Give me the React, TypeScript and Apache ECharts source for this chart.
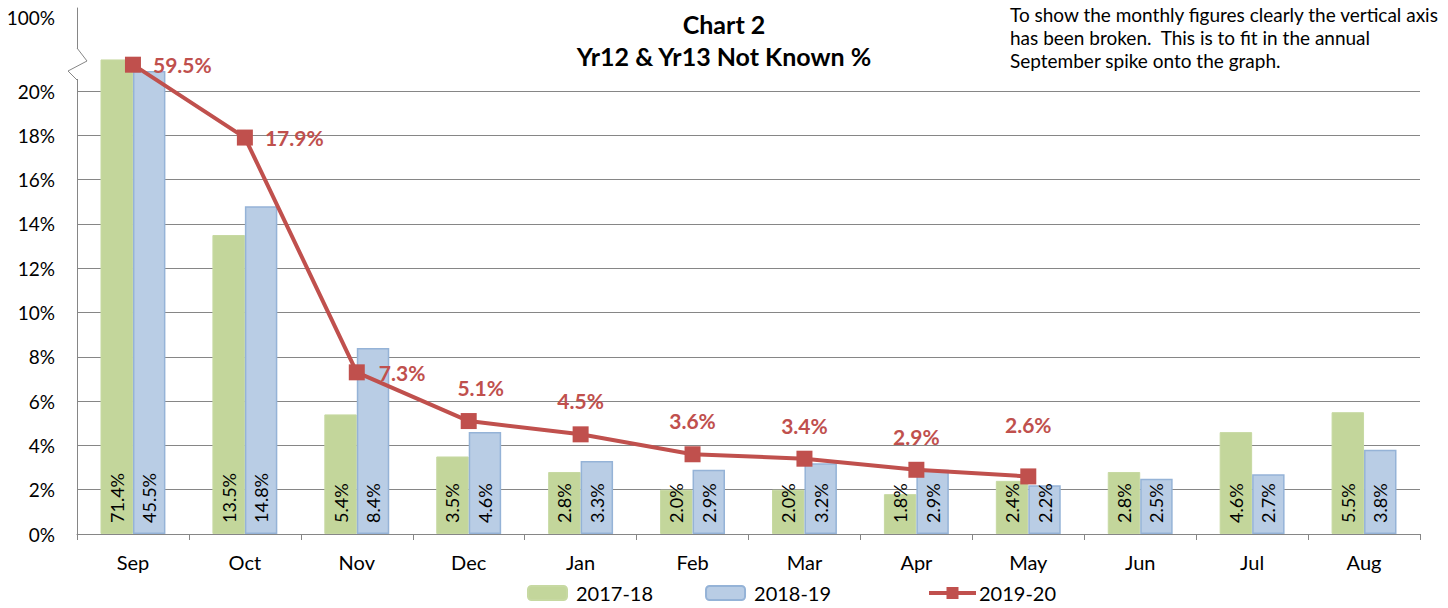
import React, { useEffect, useRef } from "react";
import * as echarts from "echarts";

const MONTHS = ["Sep", "Oct", "Nov", "Dec", "Jan", "Feb", "Mar", "Apr", "May", "Jun", "Jul", "Aug"];
const S_2017_18 = [71.4, 13.5, 5.4, 3.5, 2.8, 2.0, 2.0, 1.8, 2.4, 2.8, 4.6, 5.5];
const S_2018_19 = [45.5, 14.8, 8.4, 4.6, 3.3, 2.9, 3.2, 2.9, 2.2, 2.5, 2.7, 3.8];
const S_2019_20: (number | null)[] = [59.5, 17.9, 7.3, 5.1, 4.5, 3.6, 3.4, 2.9, 2.6, null, null, null];
const Y_TICKS = [0, 2, 4, 6, 8, 10, 12, 14, 16, 18, 20];
const BREAK_LABEL = "100%";

// broken axis: values above 20% are squeezed just above the 20% line
const BREAK_AT = 20;
const BREAK_SCALE = 0.02;
const BREAK_LABEL_POS = 23.3;
const disp = (v: number) => (v > BREAK_AT ? BREAK_AT + v * BREAK_SCALE : v);
const fmt = (v: number) => v.toFixed(1) + "%";

const FONT = "Lato, 'Open Sans', sans-serif";

export default function App() {
  const ref = useRef<HTMLDivElement>(null);
  useEffect(() => {
    document.body.style.margin = "0";
    const chart = echarts.init(ref.current!, null, { renderer: "svg" });
    const barLabel = (arr: number[]) => ({
      show: true,
      position: "insideBottom",
      rotate: 90,
      align: "left",
      verticalAlign: "middle",
      distance: 11,
      fontFamily: FONT,
      fontSize: 18,
      color: "#000",
      formatter: (p: any) => fmt(arr[p.dataIndex]),
    });
    const lineLabelFor = (i: number) => {
      if (i < 3) return { position: "right", distance: i === 2 ? 14 : 12 };
      if (i === 3) return { position: "top", distance: 15, offset: [12, 0] };
      if (i === 8) return { position: "top", distance: 33 };
      return { position: "top", distance: 15 };
    };
    chart.setOption({
      animation: false,
      textStyle: { fontFamily: FONT },
      title: {
        text: "Chart 2\nYr12 & Yr13 Not Known %",
        left: 719,
        top: 3,
        textAlign: "center",
        textStyle: { fontFamily: FONT, fontSize: 25, fontWeight: "bold", color: "#000", lineHeight: 32 },
      },
      graphic: [
        {
          type: "text",
          left: 1010,
          top: 3,
          style: {
            text: "To show the monthly figures clearly the vertical axis\nhas been broken.  This is to fit in the annual\nSeptember spike onto the graph.",
            font: `19px ${FONT}`,
            fill: "#000",
            lineHeight: 23,
          },
        },
        { type: "rect", shape: { x: 73, y: 49, width: 8, height: 30 }, style: { fill: "#fff" }, z: 100 },
        {
          type: "polyline",
          shape: { points: [[77, 48], [87, 61], [68, 71], [77, 80]] },
          style: { stroke: "#868686", lineWidth: 1, fill: null },
          z: 101,
        },
      ],
      legend: [
        {
          left: 527,
          top: 583,
          padding: 0,
          itemWidth: 39,
          itemHeight: 14,
          itemGap: 52,
          textStyle: { fontFamily: FONT, fontSize: 20, color: "#000", padding: [0, 0, 0, 4] },
          data: ["2017-18", "2018-19"],
        },
        {
          left: 927,
          top: 583,
          padding: 0,
          itemWidth: 47,
          itemHeight: 15,
          textStyle: { fontFamily: FONT, fontSize: 20, color: "#000", padding: [0, 0, 0, -2] },
          lineStyle: { width: 4 },
          data: ["2019-20"],
        },
      ],
      grid: { left: 77, right: 28, top: 8, bottom: 74, containLabel: false },
      xAxis: {
        type: "category",
        data: MONTHS,
        axisLine: { lineStyle: { color: "#868686" } },
        axisTick: { show: true, length: 6, lineStyle: { color: "#868686" } },
        axisLabel: { fontFamily: FONT, fontSize: 20, color: "#000", margin: 18 },
      },
      yAxis: {
        type: "value",
        min: 0,
        max: 23.75,
        axisLine: { show: true, lineStyle: { color: "#868686" } },
        axisTick: { show: false, customValues: Y_TICKS },
        splitLine: { lineStyle: { color: "#868686", width: 1 } },
        axisLabel: {
          customValues: [...Y_TICKS, BREAK_LABEL_POS],
          fontFamily: FONT,
          fontSize: 19,
          color: "#000",
          margin: 22,
          formatter: (v: number) => (v > BREAK_AT ? BREAK_LABEL : v + "%"),
        },
      },
      series: [
        {
          name: "2017-18",
          type: "bar",
          data: S_2017_18.map(disp),
          barGap: "0%",
          barCategoryGap: "42%",
          itemStyle: { color: "#c3d69b", borderColor: "#c7d9a2", borderWidth: 1 },
          label: barLabel(S_2017_18),
        },
        {
          name: "2018-19",
          type: "bar",
          data: S_2018_19.map(disp),
          itemStyle: { color: "#b9cde5", borderColor: "#95b3d7", borderWidth: 1.5 },
          label: barLabel(S_2018_19),
        },
        {
          name: "2019-20",
          type: "line",
          z: 5,
          data: S_2019_20.map((v, i) => (v == null ? null : { value: disp(v), label: lineLabelFor(i) })),
          symbol: "rect",
          symbolSize: 16,
          lineStyle: { color: "#c0504d", width: 4 },
          itemStyle: { color: "#c0504d" },
          label: {
            show: true,
            fontFamily: FONT,
            fontSize: 21,
            fontWeight: "bold",
            color: "#c0504d",
            formatter: (p: any) => fmt(S_2019_20[p.dataIndex] as number),
          },
        },
      ],
    });
    return () => chart.dispose();
  }, []);
  return <div ref={ref} style={{ width: 1448, height: 608 }} />;
}
